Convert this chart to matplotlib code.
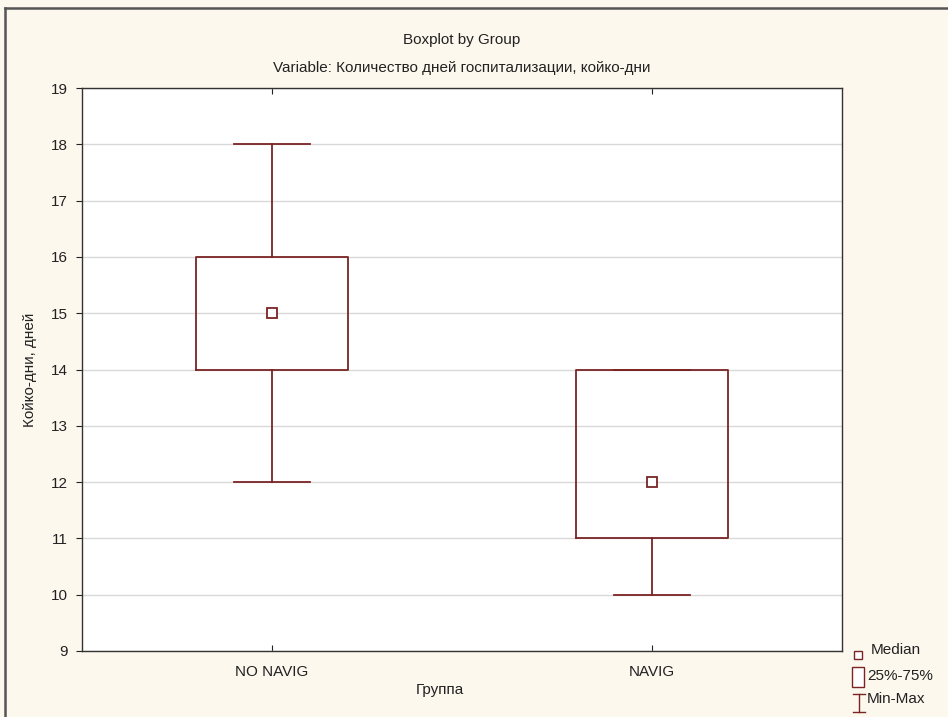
import matplotlib
matplotlib.use("Agg")
import matplotlib.pyplot as plt
from matplotlib.lines import Line2D
from matplotlib.patches import Rectangle

plt.rcParams['font.family'] = ['Liberation Sans', 'DejaVu Sans']

groups = ["NO NAVIG", "NAVIG"]
medians = [15, 12]
q1 = [14, 11]
q3 = [16, 14]
mins = [12, 10]
maxs = [18, 14]

line_color = "#7a2424"
bg_color = "#fdf8ee"
text_color = "#222222"
fs = 11

fig = plt.figure(figsize=(9.48, 7.17), dpi=100, facecolor=bg_color)
ax = fig.add_axes([82/948, 1-651/717, (842-82)/948, (651-88)/717])
ax.set_facecolor("white")

stats = []
for g, m, a, b, lo, hi in zip(groups, medians, q1, q3, mins, maxs):
    stats.append(dict(label=g, med=m, q1=a, q3=b, whislo=lo, whishi=hi, fliers=[]))

positions = [1, 2]
ax.bxp(stats, positions=positions, widths=0.4, capwidths=0.2, showfliers=False,
       boxprops=dict(color=line_color, linewidth=1.3),
       whiskerprops=dict(color=line_color, linewidth=1.3),
       capprops=dict(color=line_color, linewidth=1.3),
       medianprops=dict(visible=False), zorder=3)
ax.plot(positions, medians, linestyle="none", marker="s", markersize=6.5,
        markerfacecolor="white", markeredgecolor=line_color, markeredgewidth=1.3, zorder=4)

ax.set_xlim(0.5, 2.5)
ax.set_ylim(9, 19)
ax.set_yticks(range(9, 20))
ax.set_xticks(positions)
ax.set_xticklabels(groups)
ax.yaxis.grid(True, color="#d9d9d9", linewidth=1.0, zorder=0)
ax.set_axisbelow(True)
ax.tick_params(axis="y", direction="out", length=4, labelsize=fs, colors=text_color, pad=6)
ax.tick_params(axis="x", direction="in", length=4, labelsize=fs, colors=text_color,
               top=True, pad=10)
for s in ax.spines.values():
    s.set_color("#333333")
    s.set_linewidth(1.0)

ax.set_ylabel("Койко-дни, дней", fontsize=fs, color=text_color, labelpad=10)
fig.text(440/948, 1-690/717, "Группа", ha="center", va="center", fontsize=fs, color=text_color)

fig.text(462/948, 1-40/717, "Boxplot by Group", ha="center", va="center", fontsize=fs, color=text_color)
fig.text(462/948, 1-68/717, "Variable: Количество дней госпитализации, койко-дни",
         ha="center", va="center", fontsize=fs, color=text_color)

# legend glyphs in the lower-right corner
def fx(px):
    return px/948

def fy(py):
    return 1-py/717

fig.add_artist(Rectangle((fx(854), fy(659)), 8/948, 8/717, transform=fig.transFigure,
                         facecolor="white", edgecolor=line_color, linewidth=1.0))
fig.add_artist(Rectangle((fx(852), fy(687)), 12/948, 20/717, transform=fig.transFigure,
                         facecolor="white", edgecolor=line_color, linewidth=1.0))
fig.add_artist(Line2D([fx(853), fx(865)], [fy(694), fy(694)], transform=fig.transFigure,
                      color=line_color, linewidth=1.0))
fig.add_artist(Line2D([fx(853), fx(865)], [fy(712), fy(712)], transform=fig.transFigure,
                      color=line_color, linewidth=1.0))
fig.add_artist(Line2D([fx(859), fx(859)], [fy(694), fy(712)], transform=fig.transFigure,
                      color=line_color, linewidth=1.0))
fig.text(fx(871), fy(650), "Median", ha="left", va="center", fontsize=fs, color=text_color)
fig.text(fx(867), fy(676), "25%-75%", ha="left", va="center", fontsize=fs, color=text_color)
fig.text(fx(867), fy(699), "Min-Max", ha="left", va="center", fontsize=fs, color=text_color)

# outer frame edges
fig.add_artist(Line2D([fx(5), fx(948)], [fy(8), fy(8)], transform=fig.transFigure,
                      color="#555555", linewidth=1.8))
fig.add_artist(Line2D([fx(5), fx(5)], [fy(8), fy(717)], transform=fig.transFigure,
                      color="#555555", linewidth=1.8))

fig.savefig("out.png", dpi=100, facecolor=bg_color)
